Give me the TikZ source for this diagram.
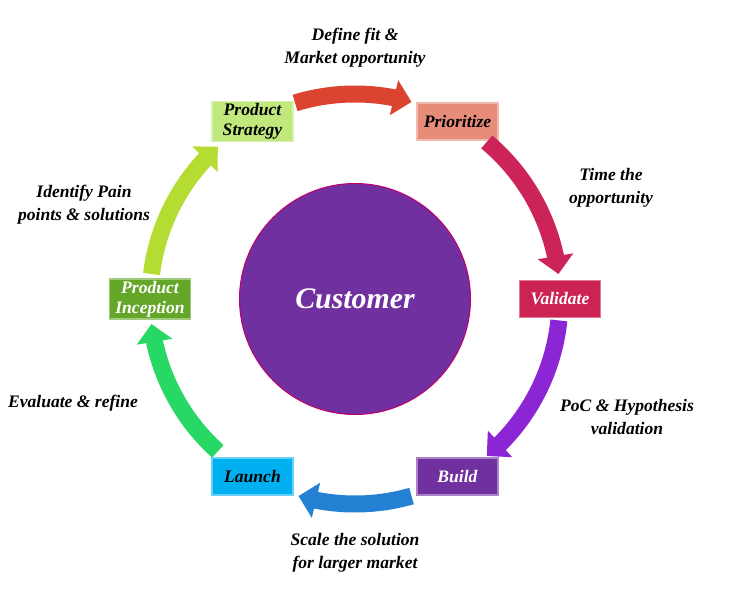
\documentclass[tikz,border=0pt]{standalone}
\usepackage{fontspec}
\setmainfont{Liberation Serif}
\usetikzlibrary{calc,positioning,arrows.meta,bending}
\definecolor{custpurple}{RGB}{112,48,160}
\definecolor{custrim}{RGB}{190,0,110}
\definecolor{strategybg}{RGB}{192,232,124}
\definecolor{prioritybg}{RGB}{232,140,122}
\definecolor{validatebg}{RGB}{204,34,84}
\definecolor{buildbg}{RGB}{112,48,160}
\definecolor{launchbg}{RGB}{0,176,240}
\definecolor{inceptionbg}{RGB}{100,166,40}
\definecolor{flowred}{RGB}{220,68,50}
\definecolor{flowcrimson}{RGB}{204,36,88}
\definecolor{flowpurple}{RGB}{140,38,212}
\definecolor{flowblue}{RGB}{36,128,210}
\definecolor{flowgreen}{RGB}{40,216,100}
\definecolor{flowlime}{RGB}{180,220,50}

\begin{document}
\begin{tikzpicture}[x=0.02cm,y=0.02cm,
  stage/.style={rectangle, fill=#1, draw=#1!60, line width=0.9pt,
    minimum width=1.62cm, minimum height=0.74cm, inner sep=1pt, align=center,
    font=\bfseries\itshape\fontsize{10}{11.5}\selectfont},
  flow/.style={draw=#1, line width=0.34cm,
    -{Triangle[width=0.7cm,length=0.36cm]}},
  note/.style={align=center, font=\bfseries\itshape\fontsize{10}{13}\selectfont}]
  \useasboundingbox (0,0) rectangle (730,595);

  \node [circle, fill=custpurple, draw=custrim, line width=0.6pt,
    minimum size=4.62cm, text=white,
    font=\bfseries\itshape\fontsize{17}{17}\selectfont] (customer) at (355,296) {Customer};

  % stages round the customer
  \node [stage=strategybg] (strategy) at ($(customer)+(120:205)$) {Product\\Strategy};
  \node [stage=prioritybg] (prioritize) at ($(customer)+(60:205)$) {Prioritize};
  \node [stage=validatebg, text=white] (validate) at ($(customer)+(0:205)$) {Validate};
  \node [stage=buildbg, text=white] (build) at ($(customer)+(-60:205)$) {Build};
  \node [stage=launchbg] (launch) at ($(customer)+(-120:205)$) {Launch};
  \node [stage=inceptionbg, text=white] (inception) at ($(customer)+(180:205)$) {Product\\Inception};

  % arrows between the stages
  \coordinate (f1) at ($(customer)+(107:205)$);
  \coordinate (f2) at ($(customer)+(50:205)$);
  \coordinate (f3) at ($(customer)+(-6:205)$);
  \coordinate (f4) at ($(customer)+(-74:205)$);
  \coordinate (f5) at ($(customer)+(-132:205)$);
  \coordinate (f6) at ($(customer)+(173:205)$);
  \draw [flow=flowred] (f1) arc[start angle=107, end angle=74, radius=205];
  \draw [flow=flowcrimson] (f2) arc[start angle=50, end angle=7, radius=205];
  \draw [flow=flowpurple] (f3) arc[start angle=-6, end angle=-50, radius=205];
  \draw [flow=flowblue] (f4) arc[start angle=-74, end angle=-106, radius=205];
  \draw [flow=flowgreen] (f5) arc[start angle=-132, end angle=-173, radius=205];
  \draw [flow=flowlime] (f6) arc[start angle=173, end angle=132, radius=205];

  \node [note] (fitlbl) at (355,547) {Define fit \&\\Market opportunity};
  \node [note] (timelbl) at (611,407) {Time the\\opportunity};
  \node [note] (poclbl) at (627,178) {PoC \& Hypothesis\\validation};
  \node [note] (scalelbl) at (355,42) {Scale the solution\\for larger market};
  \node [note] (evallbl) at (73,192) {Evaluate \& refine};
  \node [note] (painlbl) at (84,390) {Identify Pain\\points \& solutions};
\end{tikzpicture}
\end{document}
